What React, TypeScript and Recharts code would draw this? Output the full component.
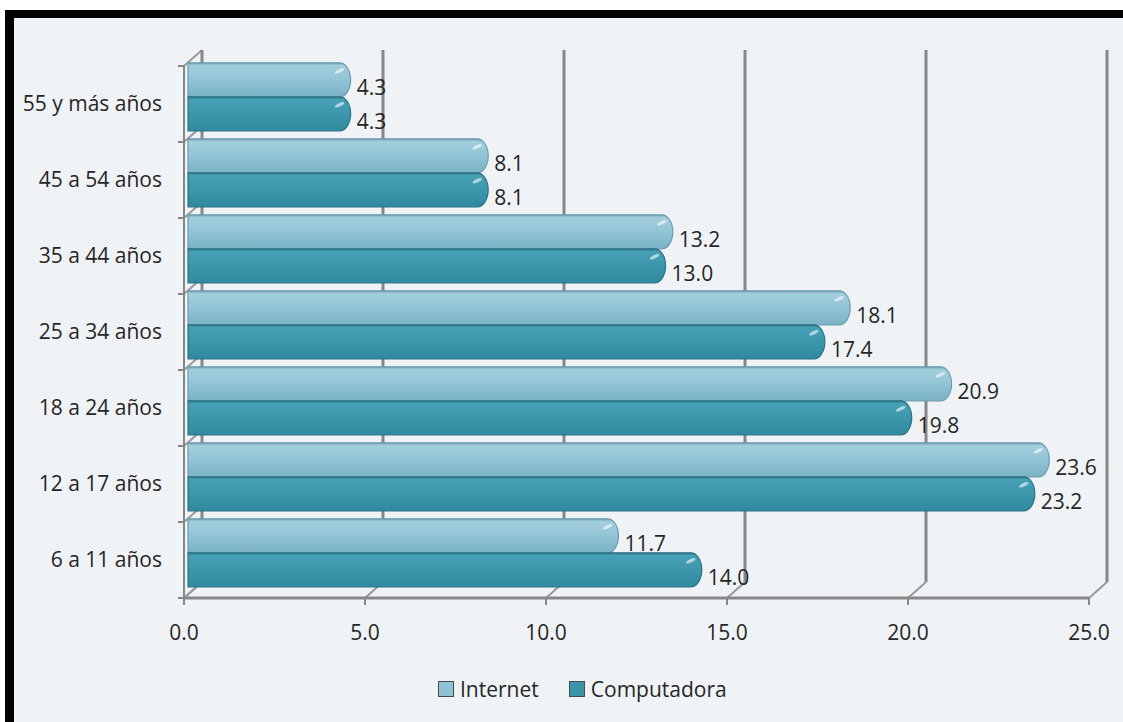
import React from "react";
import {
  BarChart,
  Bar,
  XAxis,
  YAxis,
  CartesianGrid,
  Legend,
  LabelList,
} from "recharts";

/* Datos */
const categorias = [
  "55 y más años",
  "45 a 54 años",
  "35 a 44 años",
  "25 a 34 años",
  "18 a 24 años",
  "12 a 17 años",
  "6 a 11 años",
];
const internet = [4.3, 8.1, 13.2, 18.1, 20.9, 23.6, 11.7];
const computadora = [4.3, 8.1, 13.0, 17.4, 19.8, 23.2, 14.0];
const ticksX = [0, 5, 10, 15, 20, 25];
const ordenSeries = ["Internet", "Computadora"];

const datos = categorias.map((c, i) => ({
  edad: c,
  internet: internet[i],
  computadora: computadora[i],
}));

const FUENTE = "'Open Sans', 'DejaVu Sans', sans-serif";
const TEXTO = "#262626";
const GRIS = "#878787";
// profundidad del efecto 3D
const DX = 18;
const DY = 16;

// pared del fondo: líneas verticales desplazadas + unión con el eje
const lineaFondoVertical = (p: any) => (
  <g key={p.key}>
    <line x1={p.x1 + DX} y1={p.y1 - DY} x2={p.x1 + DX} y2={p.y2 - DY} stroke={GRIS} strokeWidth={3} />
    <line x1={p.x1 + DX} y1={p.y2 - DY} x2={p.x1} y2={p.y2} stroke="#989898" strokeWidth={2} />
  </g>
);

// pared izquierda: diagonales en los límites de categoría + marcas del eje
const lineaFondoHorizontal = (p: any) => (
  <g key={p.key}>
    <line x1={p.x1} y1={p.y1} x2={p.x1 + DX} y2={p.y1 - DY} stroke="#989898" strokeWidth={2} />
    <line x1={p.x1 - 6} y1={p.y1} x2={p.x1} y2={p.y1} stroke={GRIS} strokeWidth={2} />
  </g>
);

const BarraTubo = (props: any) => {
  const { x, y, width, height, grad, borde } = props;
  if (width == null || height == null) return null;
  const izq = x + 4;
  const der = x + width + 11;
  const top = y - 7;
  const rx = 11;
  const ry = height / 2;
  const d = `M${izq},${top} H${der - rx} A${rx},${ry} 0 0 1 ${der - rx},${top + height} H${izq} Z`;
  const hx = der - 11;
  const hy = top + 8;
  return (
    <g>
      <path d={d} fill={`url(#${grad})`} stroke={borde} strokeWidth={1.2} />
      <ellipse
        cx={hx}
        cy={hy}
        rx={5}
        ry={1.6}
        fill="#ffffff"
        opacity={0.6}
        transform={`rotate(-25 ${hx} ${hy})`}
      />
    </g>
  );
};

const EtiquetaValor = (p: any) => {
  const vb = p.viewBox ?? p;
  const { x, y, width, height } = vb;
  return (
    <text
      x={x + width + 17}
      y={y + height / 2}
      dominantBaseline="central"
      fontSize={21}
      fontFamily={FUENTE}
      fill={TEXTO}
    >
      {Number(p.value).toFixed(1)}
    </text>
  );
};

const Leyenda = (props: any) => {
  const items = [...(props.payload || [])].sort(
    (a: any, b: any) => ordenSeries.indexOf(a.value) - ordenSeries.indexOf(b.value)
  );
  return (
    <div style={{ display: "flex", alignItems: "center", fontFamily: FUENTE, fontSize: 21, color: TEXTO }}>
      {items.map((it: any, i: number) => (
        <span key={i} style={{ display: "flex", alignItems: "center", marginRight: 30 }}>
          <span
            style={{
              display: "inline-block",
              width: 14,
              height: 14,
              background: it.color,
              border: "1px solid #4b4b4b",
              marginRight: 6,
            }}
          />
          {it.value}
        </span>
      ))}
    </div>
  );
};

export default function App() {
  return (
    <div
      style={{
        position: "absolute",
        left: 0,
        top: 0,
        width: 1123,
        height: 722,
        background: "#ffffff",
        overflow: "hidden",
        fontFamily: FUENTE,
      }}
    >
      {/* marco negro del gráfico */}
      <div
        style={{
          position: "absolute",
          left: 5,
          top: 10,
          width: 1140,
          height: 730,
          borderLeft: "9px solid #000",
          borderTop: "8px solid #000",
          background: "#f0f3f6",
        }}
      />
      <div style={{ position: "absolute", left: 0, top: 0 }}>
        <BarChart
          width={1123}
          height={722}
          data={datos}
          layout="vertical"
          margin={{ top: 66, right: 34, bottom: 0, left: 0 }}
          barCategoryGap="5%"
          barGap={0}
        >
          <defs>
            <linearGradient id="gradInternet" x1="0" y1="0" x2="0" y2="1">
              <stop offset="0%" stopColor="#6f9fb0" />
              <stop offset="8%" stopColor="#a3cedc" />
              <stop offset="50%" stopColor="#91c4d5" />
              <stop offset="100%" stopColor="#7bb2c5" />
            </linearGradient>
            <linearGradient id="gradComputadora" x1="0" y1="0" x2="0" y2="1">
              <stop offset="0%" stopColor="#2e7486" />
              <stop offset="8%" stopColor="#47a1b6" />
              <stop offset="50%" stopColor="#3c96ac" />
              <stop offset="100%" stopColor="#308a9f" />
            </linearGradient>
          </defs>
          <CartesianGrid
            vertical={lineaFondoVertical}
            horizontal={lineaFondoHorizontal}
            horizontalCoordinatesGenerator={({ offset }: any) =>
              Array.from(
                { length: categorias.length + 1 },
                (_, i) => offset.top + (offset.height * i) / categorias.length
              )
            }
          />
          <XAxis
            type="number"
            domain={[0, 25]}
            ticks={ticksX}
            interval={0}
            tickFormatter={(v: number) => v.toFixed(1)}
            height={124}
            axisLine={{ stroke: GRIS, strokeWidth: 3 }}
            tickLine={{ stroke: GRIS, strokeWidth: 2 }}
            tickSize={7}
            tickMargin={20}
            tick={{ fill: TEXTO, fontSize: 21, fontFamily: FUENTE }}
          />
          <YAxis
            type="category"
            dataKey="edad"
            width={184}
            axisLine={{ stroke: GRIS, strokeWidth: 2 }}
            tickLine={false}
            tickSize={6}
            tickMargin={16}
            interval={0}
            tick={{ fill: TEXTO, fontSize: 21, fontFamily: FUENTE }}
          />
          <Legend
            layout="horizontal"
            verticalAlign="middle"
            align="center"
            wrapperStyle={{ top: 675, left: 438, width: 360 }}
            content={<Leyenda />}
          />
          <Bar
            dataKey="internet"
            name="Internet"
            fill="#8ec3d5"
            isAnimationActive={false}
            shape={(p: any) => <BarraTubo {...p} grad="gradInternet" borde="#6a9eb0" />}
          >
            <LabelList dataKey="internet" content={EtiquetaValor} />
          </Bar>
          <Bar
            dataKey="computadora"
            name="Computadora"
            fill="#3a95ab"
            isAnimationActive={false}
            shape={(p: any) => <BarraTubo {...p} grad="gradComputadora" borde="#2b7384" />}
          >
            <LabelList dataKey="computadora" content={EtiquetaValor} />
          </Bar>
        </BarChart>
      </div>
    </div>
  );
}
